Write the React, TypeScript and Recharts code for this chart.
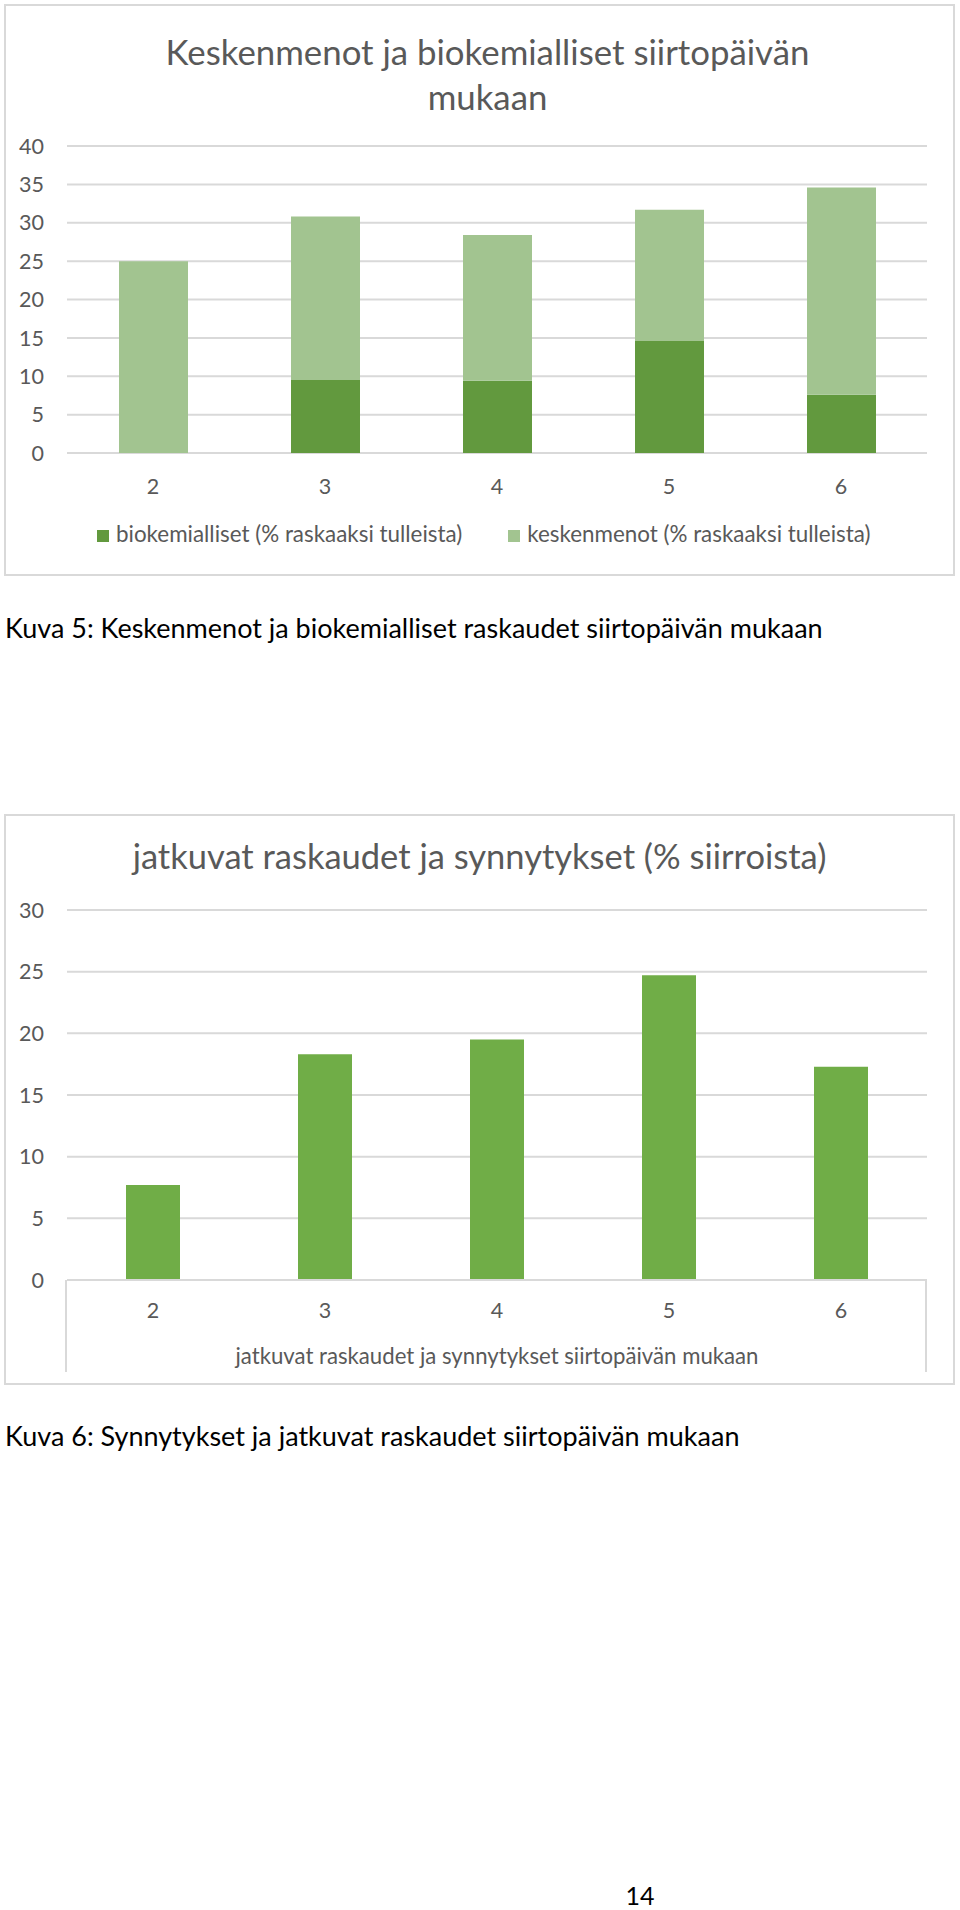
import { Bar, BarChart, CartesianGrid, Legend, XAxis, YAxis } from 'recharts'

// siirtopäivä
const days = ['2', '3', '4', '5', '6']

// Kuva 5
const biokemialliset = [0, 9.5, 9.4, 14.6, 7.6]
const keskenmenot = [25, 21.3, 19.0, 17.1, 27.0]
const ticks1 = [0, 5, 10, 15, 20, 25, 30, 35, 40]

// Kuva 6
const jatkuvat = [7.7, 18.3, 19.5, 24.7, 17.3]
const ticks2 = [0, 5, 10, 15, 20, 25, 30]

const grey = '#595959'
const gridColor = '#D9D9D9'

const data1 = days.map((d, i) => ({
  day: d,
  biokemialliset: biokemialliset[i],
  keskenmenot: keskenmenot[i]
}))

const data2 = days.map((d, i) => ({ day: d, jatkuvat: jatkuvat[i] }))

const boxStyle: React.CSSProperties = {
  position: 'absolute',
  left: 4,
  width: 951,
  border: `2px solid ${gridColor}`,
  boxSizing: 'border-box'
}

const App = (): React.JSX.Element => {
  return (
    <div
      style={{
        position: 'absolute',
        left: 0,
        top: 0,
        width: 960,
        height: 1910,
        background: '#fff',
        fontFamily: 'Lato, sans-serif'
      }}
    >
      {/* Kuva 5 */}
      <div style={{ ...boxStyle, top: 4, height: 572 }} />
      <div
        style={{
          position: 'absolute',
          left: 20,
          width: 935,
          top: 29,
          fontSize: 34.8,
          lineHeight: '45px',
          color: grey,
          textAlign: 'center'
        }}
      >
        Keskenmenot ja biokemialliset siirtopäivän
        <br />
        mukaan
      </div>
      <div style={{ position: 'absolute', left: 0, top: 0 }}>
        <BarChart
          width={960}
          height={576}
          data={data1}
          margin={{ top: 146, right: 33, left: 0, bottom: 30 }}
        >
          <CartesianGrid vertical={false} stroke={gridColor} strokeWidth={2} />
          <XAxis
            dataKey="day"
            height={69}
            axisLine={false}
            tickLine={false}
            tickSize={0}
            tickMargin={26}
            tick={{ fill: grey, fontSize: 21.5 }}
          />
          <YAxis
            width={67}
            domain={[0, 40]}
            ticks={ticks1}
            interval={0}
            axisLine={false}
            tickLine={false}
            tickSize={0}
            tickMargin={23}
            tick={{ fill: grey, fontSize: 21.5 }}
          />
          <Legend
            verticalAlign="bottom"
            align="left"
            iconType="square"
            iconSize={12}
            wrapperStyle={{ left: 97, width: 850, fontSize: 22.4, lineHeight: '24px' }}
            formatter={(value, _entry, index) => (
              <span style={{ color: grey, marginLeft: 3, marginRight: index === 0 ? 36 : 0 }}>
                {value}
              </span>
            )}
          />
          <Bar
            dataKey="biokemialliset"
            name="biokemialliset (% raskaaksi tulleista)"
            stackId="a"
            fill="#62993E"
            barSize={69}
            isAnimationActive={false}
          />
          <Bar
            dataKey="keskenmenot"
            name="keskenmenot (% raskaaksi tulleista)"
            stackId="a"
            fill="#A2C490"
            barSize={69}
            isAnimationActive={false}
          />
        </BarChart>
      </div>
      <div
        style={{
          position: 'absolute',
          left: 5,
          top: 612,
          fontSize: 27,
          lineHeight: 1.2,
          color: '#000',
          whiteSpace: 'nowrap'
        }}
      >
        Kuva 5: Keskenmenot ja biokemialliset raskaudet siirtopäivän mukaan
      </div>

      {/* Kuva 6 */}
      <div style={{ ...boxStyle, top: 814, height: 571 }} />
      <div
        style={{
          position: 'absolute',
          left: 4,
          width: 951,
          top: 835,
          fontSize: 34.5,
          lineHeight: 1.2,
          color: grey,
          textAlign: 'center'
        }}
      >
        jatkuvat raskaudet ja synnytykset (% siirroista)
      </div>
      <div style={{ position: 'absolute', left: 65, top: 1280, width: 2, height: 92, background: gridColor }} />
      <div style={{ position: 'absolute', left: 925, top: 1280, width: 2, height: 92, background: gridColor }} />
      <div style={{ position: 'absolute', left: 0, top: 814 }}>
        <BarChart
          width={960}
          height={571}
          data={data2}
          margin={{ top: 96, right: 33, left: 0, bottom: 13 }}
        >
          <CartesianGrid vertical={false} stroke={gridColor} strokeWidth={2} />
          <XAxis
            dataKey="day"
            height={92}
            axisLine={{ stroke: gridColor, strokeWidth: 2 }}
            tickLine={false}
            tickSize={0}
            tickMargin={23}
            tick={{ fill: grey, fontSize: 21.5 }}
            label={{
              value: 'jatkuvat raskaudet ja synnytykset siirtopäivän mukaan',
              position: 'insideBottom',
              offset: 8,
              fill: grey,
              fontSize: 22.2
            }}
          />
          <YAxis
            width={67}
            domain={[0, 30]}
            ticks={ticks2}
            interval={0}
            axisLine={false}
            tickLine={false}
            tickSize={0}
            tickMargin={23}
            tick={{ fill: grey, fontSize: 21.5 }}
          />
          <Bar dataKey="jatkuvat" fill="#70AD47" barSize={54} isAnimationActive={false} />
        </BarChart>
      </div>
      <div
        style={{
          position: 'absolute',
          left: 5,
          top: 1420,
          fontSize: 27,
          lineHeight: 1.2,
          color: '#000',
          whiteSpace: 'nowrap'
        }}
      >
        Kuva 6: Synnytykset ja jatkuvat raskaudet siirtopäivän mukaan
      </div>

      <div
        style={{
          position: 'absolute',
          left: 610,
          width: 60,
          top: 1880,
          fontSize: 25,
          lineHeight: 1.2,
          color: '#000',
          textAlign: 'center'
        }}
      >
        14
      </div>
    </div>
  )
}

export default App
